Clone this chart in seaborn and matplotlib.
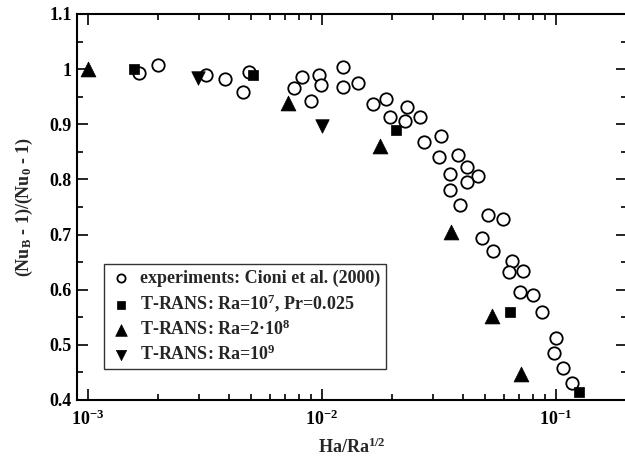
import numpy as np
import pandas as pd
import matplotlib
matplotlib.use("Agg")
import matplotlib.pyplot as plt
import seaborn as sns
from matplotlib.ticker import LogLocator, MultipleLocator, FuncFormatter

# ---- data ----
exp_x = [1.66e-3, 1.99e-3, 3.2e-3, 3.87e-3, 4.63e-3, 4.89e-3, 7.64e-3, 8.24e-3,
         9.03e-3, 9.71e-3, 9.9e-3, 1.23e-2, 1.23e-2, 1.43e-2, 1.66e-2, 1.88e-2,
         1.96e-2, 2.31e-2, 2.27e-2, 2.63e-2, 2.73e-2, 3.22e-2, 3.17e-2, 3.81e-2,
         4.18e-2, 3.55e-2, 4.67e-2, 4.18e-2, 3.55e-2, 3.89e-2, 5.12e-2, 5.96e-2,
         4.85e-2, 5.42e-2, 6.53e-2, 6.29e-2, 7.25e-2, 7.03e-2, 7.98e-2, 8.77e-2,
         0.100, 9.84e-2, 0.1077, 0.118]
exp_y = [0.993, 1.007, 0.989, 0.983, 0.959, 0.995, 0.965, 0.986,
         0.942, 0.989, 0.972, 1.003, 0.968, 0.975, 0.937, 0.945,
         0.913, 0.931, 0.906, 0.913, 0.868, 0.878, 0.841, 0.844,
         0.823, 0.809, 0.806, 0.795, 0.781, 0.754, 0.736, 0.729,
         0.694, 0.670, 0.652, 0.632, 0.634, 0.596, 0.590, 0.560,
         0.513, 0.486, 0.458, 0.430]

ra7_x = [1.58e-3, 5.07e-3, 2.07e-2, 6.35e-2, 0.126]
ra7_y = [1.0, 0.989, 0.889, 0.560, 0.414]

ra2e8_x = [1.0e-3, 7.16e-3, 1.77e-2, 3.56e-2, 5.32e-2, 7.13e-2]
ra2e8_y = [1.0, 0.938, 0.861, 0.705, 0.553, 0.448]

ra9_x = [2.97e-3, 1.0e-2]
ra9_y = [0.984, 0.897]

labels = ["experiments: Cioni et al. (2000)",
          "T-RANS: Ra=10$^7$, Pr=0.025",
          "T-RANS: Ra=2\u00b710$^8$",
          "T-RANS: Ra=10$^9$"]

sns.set_style("ticks")
plt.rcParams['font.family'] = ['Liberation Serif', 'DejaVu Serif']
plt.rcParams['font.weight'] = 'bold'
plt.rcParams['mathtext.fontset'] = 'custom'
plt.rcParams['mathtext.rm'] = 'Liberation Serif:bold'
plt.rcParams['mathtext.it'] = 'Liberation Serif:bold'
plt.rcParams['mathtext.bf'] = 'Liberation Serif:bold'
plt.rcParams['mathtext.default'] = 'rm'

fig = plt.figure(figsize=(6.25, 4.62), dpi=100)
ax = fig.add_axes([77/625, 62/462, 550/625, 386/462])

sns.scatterplot(x=exp_x, y=exp_y, ax=ax, marker='o', s=80, facecolor='white',
                edgecolor='black', linewidth=1.3, label=labels[0], zorder=3)
sns.scatterplot(x=ra7_x, y=ra7_y, ax=ax, marker='s', s=60, color='black',
                edgecolor='black', linewidth=0.5, label=labels[1], zorder=4)
sns.scatterplot(x=ra2e8_x, y=ra2e8_y, ax=ax, marker='^', s=115, color='black',
                edgecolor='black', linewidth=0.5, label=labels[2], zorder=4)
sns.scatterplot(x=ra9_x, y=ra9_y, ax=ax, marker='v', s=95, color='black',
                edgecolor='black', linewidth=0.5, label=labels[3], zorder=4)

ax.set_xscale('log')
ax.set_xlim(9.0e-4, 0.2018)
ax.set_ylim(0.4, 1.1)
ax.xaxis.set_major_locator(LogLocator(base=10, numticks=10))
ax.xaxis.set_minor_locator(LogLocator(base=10, subs=np.arange(2, 10), numticks=20))
ax.yaxis.set_major_locator(MultipleLocator(0.1))
ax.yaxis.set_minor_locator(MultipleLocator(0.05))
ax.yaxis.set_major_formatter(FuncFormatter(lambda v, p: '1' if abs(v - 1) < 1e-9 else '%.1f' % v))

for side in ['top', 'right', 'bottom', 'left']:
    ax.spines[side].set_visible(True)
    ax.spines[side].set_linewidth(1.5)
    ax.spines[side].set_color('black')
ax.tick_params(which='both', direction='in', top=True, right=True, width=1.2, colors='black')
ax.tick_params(which='major', length=8, labelsize=13, pad=4)
ax.tick_params(axis='x', which='major', pad=7)
ax.tick_params(which='minor', length=4)
for t in ax.get_xticklabels() + ax.get_yticklabels():
    t.set_fontweight('bold')

ax.set_xlabel('Ha/Ra$^{1/2}$', fontsize=13, fontweight='bold', labelpad=6)
ax.set_ylabel('(Nu$_B$ - 1)/(Nu$_0$ - 1)', fontsize=13, fontweight='bold', labelpad=10)

leg = ax.legend(loc='lower left', bbox_to_anchor=(0.049, 0.080), frameon=True,
                fancybox=False, edgecolor='black', fontsize=13, handletextpad=0.4,
                borderpad=0.3, labelspacing=0.3, handlelength=1.3, borderaxespad=0)
leg.get_frame().set_linewidth(1.0)
for t in leg.get_texts():
    t.set_fontweight('bold')
for h, sz in zip(leg.legend_handles, [35, 40, 70, 55]):
    try:
        h.set_sizes([sz])
    except Exception:
        pass

fig.savefig('out.png', dpi=100)
